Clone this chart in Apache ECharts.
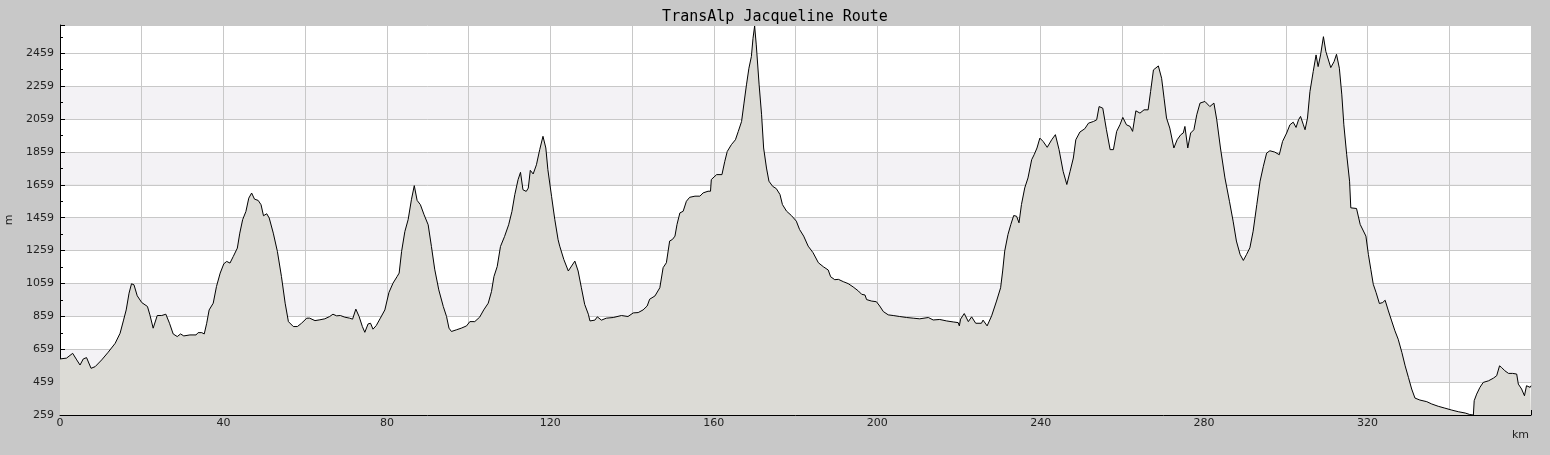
<!DOCTYPE html>
<html>
<head>
<meta charset="utf-8">
<script src="https://cdn.jsdelivr.net/npm/echarts@6/dist/echarts.min.js"></script>
<style>
html,body{margin:0;padding:0;background:#c8c8c8;}
#chart{width:1550px;height:455px;}
</style>
</head>
<body>
<div id="chart"></div>
<script>
const chartTitle = 'TransAlp Jacqueline Route';
const xAxisName = 'km';
const yAxisName = 'm';
const yMin = 259, yMax = 2631, yStep = 200;
const xMin = 0, xMax = 360, xStep = 20, xLabelStep = 40;

const distKm = [
0,0.4,1.6,3.1,4.1,4.9,5.7,6.5,7.6,8.6,10.2,11.8,13.5,14.7,15.5,16.2,16.9,17.5,18.1,18.9,
20.0,21.4,22.0,22.8,23.8,24.9,25.9,26.8,27.7,28.7,29.5,30.3,31.8,33.3,33.8,34.7,35.3,35.9,36.5,37.5,
38.3,39.2,40.1,40.8,41.6,42.4,43.4,44.0,44.7,45.5,46.2,46.9,47.6,48.5,49.2,49.8,50.6,51.2,52.2,53.2,
54.2,55.1,55.9,57.1,58.1,59.1,60.4,61.1,62.4,63.6,64.8,66.0,66.8,67.7,68.6,69.7,70.9,71.6,72.4,73.2,
74.0,74.6,75.4,76.0,76.6,77.4,78.4,79.5,80.5,81.5,82.5,83.0,83.6,84.4,85.2,86.0,86.7,87.4,88.2,89.1,
90.1,90.9,91.7,92.7,93.8,94.6,95.2,95.8,97.0,98.2,99.5,100.3,101.5,102.7,103.7,104.8,105.6,106.2,107.0,107.8,
108.8,109.8,110.6,111.3,112.1,112.7,113.3,114.1,114.6,115.1,115.8,116.6,117.4,118.2,118.9,119.4,120.3,121.1,121.9,122.3,
123.3,124.4,125.2,126.0,126.8,127.6,128.4,129.3,129.7,130.9,131.5,132.5,133.7,135.4,137.4,139.0,140.3,141.5,142.7,143.7,
144.3,145.6,146.8,147.6,148.4,149.2,149.9,150.5,151.0,151.7,152.5,153.3,154.1,155.4,156.6,157.4,158.6,159.2,159.4,160.7,
162.0,162.7,163.3,164.3,165.3,166.0,166.8,167.4,168.0,168.6,169.2,169.6,170.0,170.4,171.1,171.7,172.2,172.9,173.5,174.4,
175.3,176.2,176.8,177.8,179.0,180.2,181.0,182.0,183.1,184.3,185.6,186.8,188.0,188.6,189.6,190.5,191.7,192.9,194.1,195.4,
196.2,197.0,197.4,198.6,199.8,200.6,201.5,202.7,203.9,205.5,207.2,208.8,210.4,212.5,213.7,215.3,217.0,218.6,219.8,220.1,
220.4,221.3,222.3,223.1,224.1,225.5,225.9,226.9,228.0,229.2,230.2,230.7,231.2,232.0,232.7,233.4,234.1,234.7,235.3,236.1,
236.9,237.8,238.4,239.1,239.8,240.6,241.6,242.7,243.6,244.5,245.5,246.4,247.2,248.0,248.6,249.6,250.8,251.7,252.9,253.7,
254.3,255.2,256.1,257.0,257.8,258.6,259.4,260.1,261.0,261.9,262.5,263.3,264.3,265.3,266.3,266.9,267.6,268.8,269.6,270.2,
270.8,271.6,272.6,273.4,274.3,274.9,275.3,276.0,276.7,277.5,278.2,279.0,280.2,281.4,282.4,283.1,284.0,285.1,286.2,287.1,
287.9,288.8,289.6,290.4,291.2,292.0,292.9,293.7,294.5,295.3,296.1,297.3,298.4,299.2,300.2,301.0,301.8,302.5,303.1,303.6,
304.3,304.7,305.3,305.9,306.7,307.4,307.9,308.5,309.2,309.8,311.0,311.8,312.4,313.1,313.7,314.2,314.9,315.6,315.9,317.3,
318.2,319.6,320.2,320.8,321.4,322.1,322.9,323.7,324.3,325.1,325.9,326.7,327.5,328.4,329.2,330.0,330.8,331.6,332.8,334.5,
335.7,337.3,338.9,340.6,342.2,343.9,345.0,345.9,346.1,346.7,347.5,348.3,349.6,350.8,351.6,352.3,352.8,353.6,354.5,355.5,
356.5,356.9,357.7,358.4,358.9,359.8,360.0
];

const elevM = [
600,604,605,634,594,563,600,608,543,553,594,641,695,756,831,898,1000,1057,1051,984,
943,919,868,787,864,864,872,817,752,736,752,740,746,746,760,760,752,817,898,939,
1041,1122,1179,1193,1183,1223,1274,1365,1447,1497,1578,1609,1572,1564,1538,1471,1483,1457,1365,1254,
1101,939,827,797,797,817,848,848,833,838,844,858,872,862,864,854,848,842,903,858,
797,762,813,817,781,803,848,898,1004,1061,1101,1122,1254,1375,1447,1568,1654,1564,1538,1477,
1416,1284,1146,1020,919,858,787,767,777,787,801,827,827,854,898,939,1010,1101,1162,1284,
1345,1416,1497,1599,1690,1735,1629,1619,1639,1747,1725,1781,1873,1954,1883,1751,1589,1447,1325,1286,
1205,1135,1165,1195,1135,1033,932,872,831,836,856,836,848,852,864,858,880,882,898,922,
963,983,1033,1155,1185,1317,1327,1347,1418,1488,1498,1559,1583,1590,1590,1610,1620,1620,1691,1721,
1721,1802,1862,1903,1933,1984,2044,2156,2267,2368,2439,2550,2625,2510,2267,2085,1883,1761,1681,1650,
1636,1600,1539,1499,1472,1438,1387,1347,1286,1246,1185,1161,1141,1100,1082,1084,1070,1058,1038,1013,
993,989,961,952,948,922,888,868,864,858,852,848,844,852,837,840,831,825,821,801,
842,876,827,856,817,817,836,801,862,952,1033,1135,1256,1357,1418,1472,1468,1428,1539,1640,
1701,1812,1842,1883,1943,1923,1887,1933,1964,1873,1741,1661,1741,1822,1933,1980,2000,2034,2044,2054,
2135,2125,1994,1873,1873,1984,2024,2069,2024,2014,1984,2109,2095,2115,2115,2226,2358,2382,2307,2186,
2065,2004,1883,1933,1964,1974,2014,1883,1974,1994,2085,2156,2166,2135,2156,2054,1883,1701,1559,1438,
1317,1236,1199,1236,1276,1377,1539,1681,1772,1852,1866,1858,1842,1923,1974,2024,2040,2008,2054,2075,
2024,1994,2065,2226,2348,2449,2378,2449,2560,2469,2372,2408,2453,2368,2206,2024,1842,1681,1519,1515,
1418,1347,1236,1145,1054,1003,937,943,957,892,831,771,720,639,558,488,417,362,350,340,
326,312,301,289,279,271,262,259,346,386,427,457,467,483,498,558,548,528,512,512,
508,447,417,376,437,427,437
];

const profile = distKm.map((d, i) => [d, elevM[i]]);

const bandColors = [];
for (let v = yMin; v < yMax; v += yStep) {
  const idx = bandColors.length;
  bandColors.push((v + yStep <= 2459 && idx % 2 === 1) ? '#f3f2f5' : '#ffffff');
}

const chart = echarts.init(document.getElementById('chart'), null, {renderer: 'canvas'});
chart.setOption({
  backgroundColor: '#c8c8c8',
  animation: false,
  title: {
    text: chartTitle,
    left: 'center',
    top: 5,
    textStyle: {fontFamily: 'DejaVu Sans Mono', fontSize: 15, fontWeight: 'normal', color: '#000'}
  },
  grid: {left: 60, right: 19, top: 25, bottom: 40, containLabel: false, outerBoundsMode: 'none'},
  xAxis: {
    type: 'value',
    min: xMin, max: xMax, interval: xStep,
    name: xAxisName,
    nameLocation: 'end',
    nameGap: -19,
    nameTextStyle: {fontFamily: 'DejaVu Sans', fontSize: 11, color: '#222', verticalAlign: 'top', align: 'left', padding: [15, 0, 0, 0]},
    axisLine: {show: true, onZero: false, lineStyle: {color: '#000', width: 1}},
    axisTick: {show: true, inside: true, length: 5, lineStyle: {color: '#000'}},
    minorTick: {show: true, splitNumber: 2, length: 5, lineStyle: {color: '#000'}},
    axisLabel: {
      fontFamily: 'DejaVu Sans', fontSize: 11, color: '#222', margin: 3,
      formatter: v => (v % xLabelStep === 0 && v < xMax) ? String(v) : ''
    },
    splitLine: {show: true, lineStyle: {color: '#c8c8c8', width: 1}}
  },
  yAxis: {
    type: 'value',
    min: yMin, max: yMax, interval: yStep,
    name: yAxisName,
    nameLocation: 'middle',
    nameRotate: 90,
    nameGap: 45,
    nameTextStyle: {fontFamily: 'DejaVu Sans', fontSize: 11, color: '#222'},
    axisLine: {show: true, onZero: false, lineStyle: {color: '#000', width: 1}},
    axisTick: {show: true, inside: true, length: 5, lineStyle: {color: '#000'}},
    minorTick: {show: true, splitNumber: 2, length: 3, lineStyle: {color: '#000'}},
    axisLabel: {fontFamily: 'DejaVu Sans', fontSize: 11, color: '#222', margin: 6, showMaxLabel: false,
      formatter: v => String(v)},
    splitLine: {show: true, lineStyle: {color: '#c8c8c8', width: 1}},
    splitArea: {show: true, areaStyle: {color: bandColors}}
  },
  series: [{
    type: 'line',
    data: profile,
    showSymbol: false,
    symbol: 'none',
    clip: true,
    lineStyle: {color: '#000', width: 1},
    areaStyle: {color: '#dcdbd6', opacity: 1},
    z: 2
  }]
});
</script>
</body>
</html>
